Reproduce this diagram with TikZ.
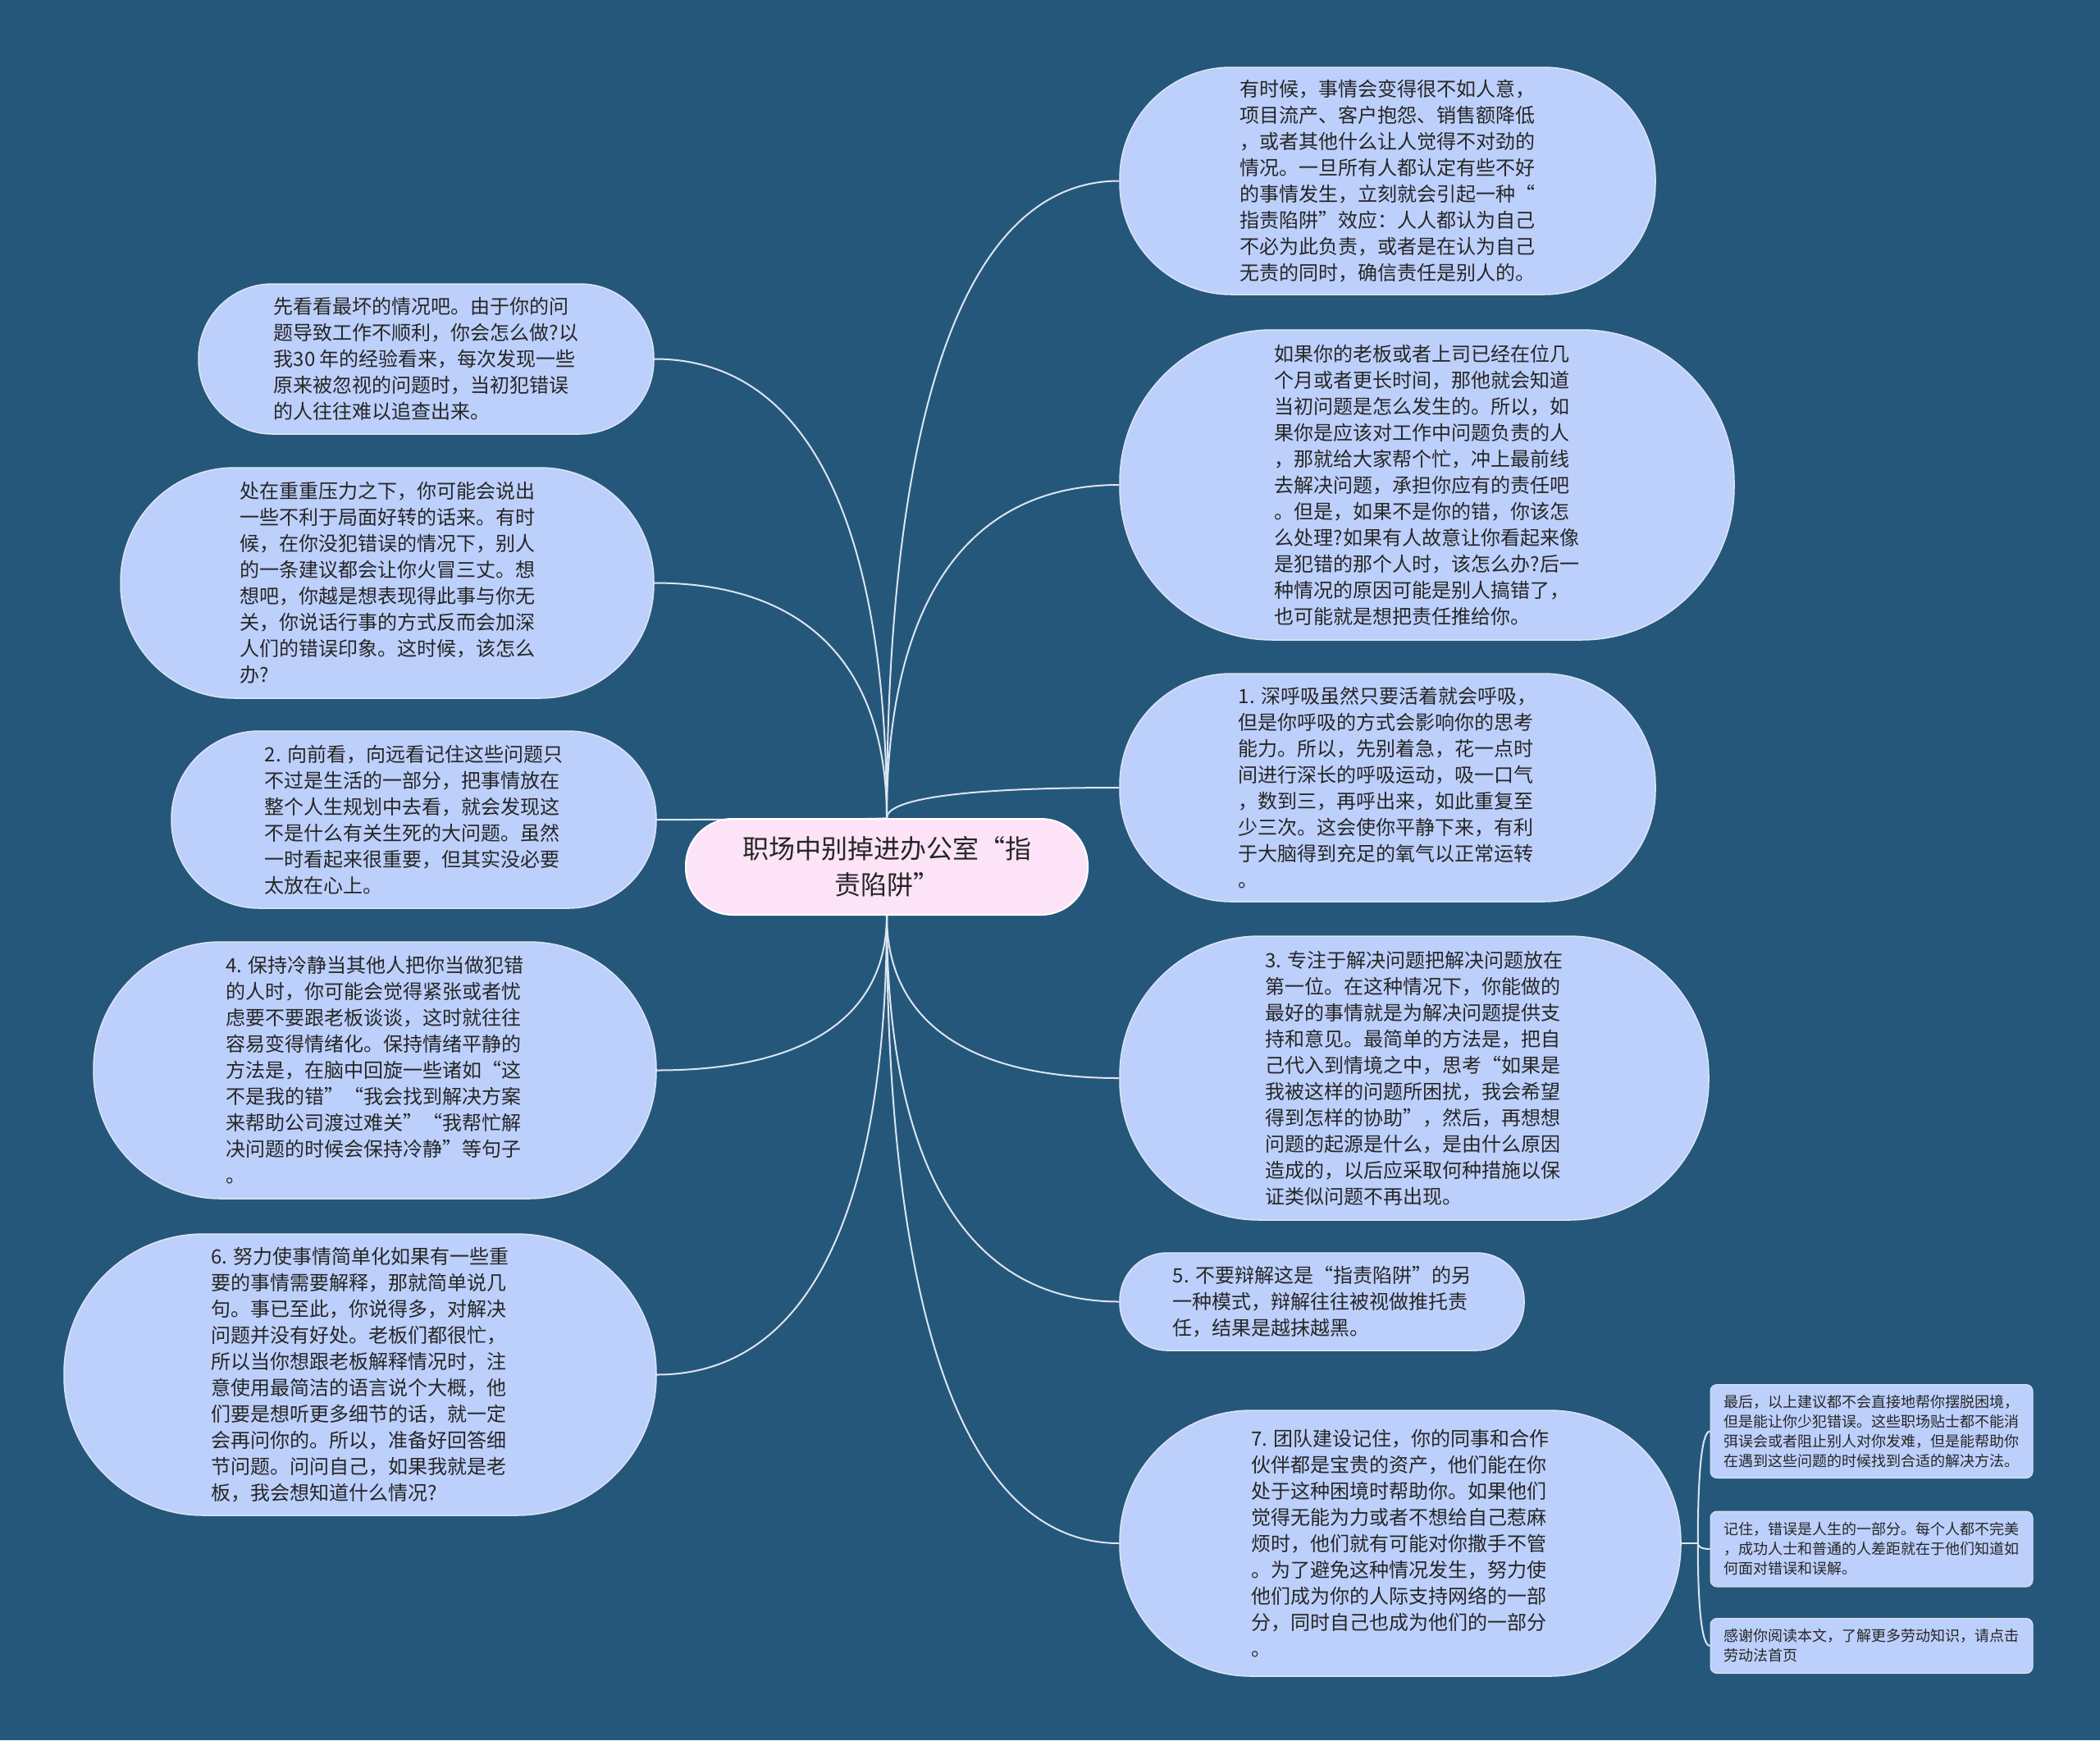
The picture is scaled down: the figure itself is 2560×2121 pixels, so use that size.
\documentclass[tikz,border=0pt]{standalone}
\usepackage{fontspec}
\newfontfamily\cjk{Noto Sans CJK SC}
\usetikzlibrary{calc}
\pgfdeclarelayer{back}
\pgfdeclarelayer{lines}
\pgfsetlayers{back,lines,main}
\definecolor{bgc}{HTML}{25577A}
\definecolor{nodec}{HTML}{BDD0FB}
\definecolor{rootc}{HTML}{FDE3F7}
\definecolor{edgec}{HTML}{DCE5F2}
\definecolor{txtc}{HTML}{262626}
\newcommand\mmconn[2]{\draw[connline] (#1) .. controls ($(#1)!0.6!(#1 |- #2)$) and ($(#2)!0.7!(#1 |- #2)$) .. (#2);}
\tikzset{
  pill/.style={draw=edgec, line width=1.5pt, fill=nodec, text=txtc, font=\cjk\fontsize{24}{32}\selectfont, align=left, inner sep=0pt},
  rootbox/.style={draw=white, line width=2pt, fill=rootc, text=txtc, font=\cjk\fontsize{32}{44}\selectfont, align=center, inner sep=0pt},
  smallbox/.style={draw=edgec, line width=1pt, fill=nodec, text=txtc, rounded corners=8pt, font=\cjk\fontsize{18}{24}\selectfont, align=left, inner sep=0pt, minimum width=393pt},
  connline/.style={draw=edgec, line width=2pt},
}
\begin{document}
\begin{tikzpicture}[x=1pt,y=-1pt]
\begin{pgfonlayer}{back}
\fill[bgc] (0,0) rectangle (2560,2121);
\end{pgfonlayer}
\useasboundingbox (0,0) rectangle (2560,2121);

% root
\node[rootbox, minimum width=490pt, minimum height=117pt, rounded corners=57pt] (root) at (1081,1056.5) {职场中别掉进办公室“指\\责陷阱”};

% right side
\node[pill, minimum width=653pt, minimum height=277pt, rounded corners=136pt] (R1) at (1691.5,220.5) {有时候，事情会变得很不如人意，\\项目流产、客户抱怨、销售额降低\\，或者其他什么让人觉得不对劲的\\情况。一旦所有人都认定有些不好\\的事情发生，立刻就会引起一种“\\指责陷阱”效应：人人都认为自己\\不必为此负责，或者是在认为自己\\无责的同时，确信责任是别人的。};

\node[pill, minimum width=749pt, minimum height=378pt, rounded corners=186pt] (R2) at (1739.5,591) {如果你的老板或者上司已经在位几\\个月或者更长时间，那他就会知道\\当初问题是怎么发生的。所以，如\\果你是应该对工作中问题负责的人\\，那就给大家帮个忙，冲上最前线\\去解决问题，承担你应有的责任吧\\。但是，如果不是你的错，你该怎\\么处理?如果有人故意让你看起来像\\是犯错的那个人时，该怎么办?后一\\种情况的原因可能是别人搞错了，\\也可能就是想把责任推给你。};

\node[pill, minimum width=653pt, minimum height=278pt, rounded corners=136pt] (R3) at (1691.5,960) {1. 深呼吸虽然只要活着就会呼吸，\\但是你呼吸的方式会影响你的思考\\能力。所以，先别着急，花一点时\\间进行深长的呼吸运动，吸一口气\\，数到三，再呼出来，如此重复至\\少三次。这会使你平静下来，有利\\于大脑得到充足的氧气以正常运转\\。};

\node[pill, minimum width=718pt, minimum height=346pt, rounded corners=170pt] (R4) at (1724,1314) {3. 专注于解决问题把解决问题放在\\第一位。在这种情况下，你能做的\\最好的事情就是为解决问题提供支\\持和意见。最简单的方法是，把自\\己代入到情境之中，思考“如果是\\我被这样的问题所困扰，我会希望\\得到怎样的协助”，然后，再想想\\问题的起源是什么，是由什么原因\\造成的，以后应采取何种措施以保\\证类似问题不再出现。};

\node[pill, minimum width=493pt, minimum height=119pt, rounded corners=58pt] (R5) at (1611.5,1586.5) {5. 不要辩解这是“指责陷阱”的另\\一种模式，辩解往往被视做推托责\\任，结果是越抹越黑。};

\node[pill, minimum width=684pt, minimum height=324pt, rounded corners=160pt] (R6) at (1707,1881) {7. 团队建设记住，你的同事和合作\\伙伴都是宝贵的资产，他们能在你\\处于这种困境时帮助你。如果他们\\觉得无能为力或者不想给自己惹麻\\烦时，他们就有可能对你撒手不管\\。为了避免这种情况发生，努力使\\他们成为你的人际支持网络的一部\\分，同时自己也成为他们的一部分\\。};

% small notes
\node[smallbox, minimum height=114pt] (S1) at (2281.5,1744.5) {最后，以上建议都不会直接地帮你摆脱困境，\\但是能让你少犯错误。这些职场贴士都不能消\\弭误会或者阻止别人对你发难，但是能帮助你\\在遇到这些问题的时候找到合适的解决方法。};
\node[smallbox, minimum height=92pt] (S2) at (2281.5,1888) {记住，错误是人生的一部分。每个人都不完美\\，成功人士和普通的人差距就在于他们知道如\\何面对错误和误解。};
\node[smallbox, minimum height=67pt] (S3) at (2281.5,2006) {感谢你阅读本文，了解更多劳动知识，请点击\\劳动法首页};

% left side
\node[pill, minimum width=555pt, minimum height=183pt, rounded corners=90pt] (L1) at (519.5,437.5) {先看看最坏的情况吧。由于你的问\\题导致工作不顺利，你会怎么做?以\\我30 年的经验看来，每次发现一些\\原来被忽视的问题时，当初犯错误\\的人往往难以追查出来。};

\node[pill, minimum width=650pt, minimum height=281pt, rounded corners=139pt] (L2) at (472,710.5) {处在重重压力之下，你可能会说出\\一些不利于局面好转的话来。有时\\候，在你没犯错误的情况下，别人\\的一条建议都会让你火冒三丈。想\\想吧，你越是想表现得此事与你无\\关，你说话行事的方式反而会加深\\人们的错误印象。这时候，该怎么\\办?};

\node[pill, minimum width=591pt, minimum height=216pt, rounded corners=107pt] (L3) at (504.5,999) {2. 向前看，向远看记住这些问题只\\不过是生活的一部分，把事情放在\\整个人生规划中去看，就会发现这\\不是什么有关生死的大问题。虽然\\一时看起来很重要，但其实没必要\\太放在心上。};

\node[pill, minimum width=686pt, minimum height=313pt, rounded corners=155pt] (L4) at (457,1304.5) {4. 保持冷静当其他人把你当做犯错\\的人时，你可能会觉得紧张或者忧\\虑要不要跟老板谈谈，这时就往往\\容易变得情绪化。保持情绪平静的\\方法是，在脑中回旋一些诸如“这\\不是我的错”“我会找到解决方案\\来帮助公司渡过难关”“我帮忙解\\决问题的时候会保持冷静”等句子\\。};

\node[pill, minimum width=722pt, minimum height=343pt, rounded corners=170pt] (L5) at (439,1675.5) {6. 努力使事情简单化如果有一些重\\要的事情需要解释，那就简单说几\\句。事已至此，你说得多，对解决\\问题并没有好处。老板们都很忙，\\所以当你想跟老板解释情况时，注\\意使用最简洁的语言说个大概，他\\们要是想听更多细节的话，就一定\\会再问你的。所以，准备好回答细\\节问题。问问自己，如果我就是老\\板，我会想知道什么情况?};

% connectors
\begin{pgfonlayer}{lines}
\mmconn{root.north}{R1.west}
\mmconn{root.north}{R2.west}
\mmconn{root.north}{R3.west}
\mmconn{root.north}{L1.east}
\mmconn{root.north}{L2.east}
\mmconn{root.north}{L3.east}
\mmconn{root.south}{R4.west}
\mmconn{root.south}{R5.west}
\mmconn{root.south}{R6.west}
\mmconn{root.south}{L4.east}
\mmconn{root.south}{L5.east}
\coordinate (j6) at ($(R6.east)+(20,0)$);
\draw[connline] (R6.east) -- (j6);
\mmconn{j6}{S1.west}
\mmconn{j6}{S2.west}
\mmconn{j6}{S3.west}
\end{pgfonlayer}
\end{tikzpicture}
\end{document}
